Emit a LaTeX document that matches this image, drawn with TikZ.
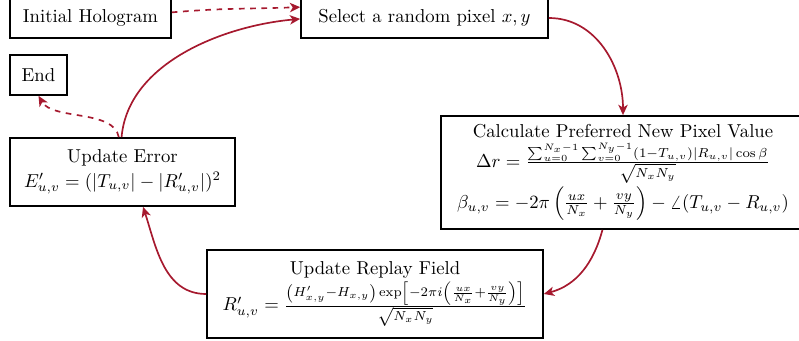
\documentclass[tikz,border=0pt]{standalone}
\usepackage{amsmath}
\usetikzlibrary{arrows.meta}
\definecolor{arrowred}{RGB}{166,25,46}
\tikzset{
  box/.style={draw=black, line width=0.9pt, align=center, inner sep=2pt, font=\normalsize},
  flow/.style={draw=arrowred, line width=0.9pt, -{Stealth[length=5.5pt,width=5pt,inset=1.5pt]}},
  flowdash/.style={flow, dashed}
}
\begin{document}
\begin{tikzpicture}[x=0.535pt, y=-0.535pt]
\useasboundingbox (0,0) rectangle (799,341);
\node[box, minimum width=86.1pt, minimum height=21.4pt] (init) at (90.5,18) {Initial Hologram};
\node[box, minimum width=132.1pt, minimum height=21.4pt] (select) at (424.5,18) {Select a random pixel $x,y$};
\node[box, minimum width=30.5pt, minimum height=21.4pt] (end) at (38.5,75) {End};
\node[box, minimum width=194.7pt, minimum height=60.5pt] (calc) at (623,172.5) {Calculate Preferred New Pixel Value\\[1.5pt]
$\Delta r = \frac{\sum_{u=0}^{N_x-1}\sum_{v=0}^{N_y-1}(1-T_{u,v})|R_{u,v}|\cos\beta}{\sqrt{N_xN_y}}$\\[1pt]
$\beta_{u,v} = -2\pi\left(\frac{ux}{N_x}+\frac{vy}{N_y}\right) - \angle(T_{u,v}-R_{u,v})$};
\node[box, minimum width=120.4pt, minimum height=36.4pt] (error) at (122.5,172) {Update Error\\[1pt]
$E'_{u,v} = (|T_{u,v}| - |R'_{u,v}|)^2$};
\node[box, minimum width=179.8pt, minimum height=47.1pt] (replay) at (375,294) {Update Replay Field\\[1pt]
$R'_{u,v} = \frac{\left(H'_{x,y}-H_{x,y}\right)\exp\left[-2\pi i\left(\frac{ux}{N_x}+\frac{vy}{N_y}\right)\right]}{\sqrt{N_xN_y}}$};
\draw[flowdash] ([yshift=3pt]init.east) to[out=5,in=182] ([yshift=5.8pt]select.west);
\draw[flow] ([xshift=-0.5pt]error.north) to[out=85,in=185,looseness=0.9] ([yshift=-0.5pt]select.west);
\draw[flow] (select.east) to[out=0,in=90] (calc.north);
\draw[flow] ([xshift=-11pt]calc.south) to[out=-105,in=15] (replay.east);
\draw[flow] (replay.west) to[out=180,in=-72] ([xshift=11pt]error.south);
\draw[flowdash] ([xshift=-2pt]error.north) to[out=100,in=-60,looseness=0.8] (end.south);
\end{tikzpicture}
\end{document}
